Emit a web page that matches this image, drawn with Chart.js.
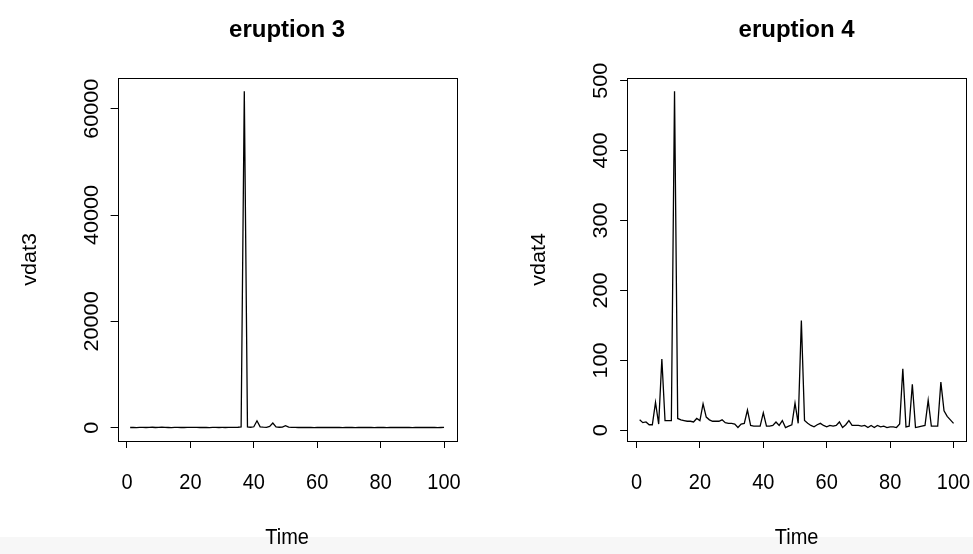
<!DOCTYPE html>
<html><head><meta charset="utf-8">
<script src="https://cdn.jsdelivr.net/npm/chart.js@4"></script>
<style>
html,body{margin:0;padding:0;background:#fff;}
#wrap{position:relative;width:973px;height:554px;overflow:hidden;background:#fff;}
canvas{position:absolute;top:0;}
#band{position:absolute;left:0;top:537px;width:973px;height:17px;background:#f7f7f7;}
</style></head><body>
<div id="wrap"><div id="band"></div>
<canvas id="c3" width="486" height="554" style="left:0;width:486px;height:554px"></canvas>
<canvas id="c4" width="487" height="554" style="left:486px;width:487px;height:554px"></canvas>
</div>
<script>
// ---- data ----
const time = Array.from({length: 100}, (_, i) => i + 1);
const vdat3 = [
  45, 60, 38, 52, 70, 41, 55, 90, 48, 62,
  120, 58, 44, 36, 50, 65, 47, 39, 80, 53,
  61, 49, 42, 57, 46, 38, 52, 66, 44, 50,
  43, 58, 71, 49, 88, 150, 63300, 140, 95, 180,
  1300, 160, 110, 85, 240, 880, 150, 90, 120, 400,
  110, 70, 55, 48, 62, 40, 51, 45, 37, 58,
  44, 50, 39, 47, 60, 42, 55, 38, 46, 41,
  53, 36, 48, 44, 57, 40, 49, 35, 52, 43,
  47, 38, 61, 45, 50, 39, 55, 42, 48, 37,
  46, 52, 40, 44, 58, 41, 49, 36, 45, 50
];
const vdat4 = [
  15, 11, 12, 8, 8, 40, 9, 102, 14, 14,
  14, 485, 17, 15, 14, 13, 13, 12, 17, 14,
  38, 19, 15, 13, 13, 13, 15, 11, 10, 10,
  9, 4, 9, 10, 29, 7, 6, 6, 6, 25,
  6, 6, 7, 12, 7, 14, 4, 6, 8, 39,
  10, 157, 14, 10, 7, 5, 8, 10, 7, 5,
  7, 6, 7, 12, 4, 8, 14, 7, 7, 7,
  6, 7, 4, 7, 4, 7, 5, 6, 4, 5,
  5, 4, 9, 88, 5, 6, 66, 4, 5, 6,
  7, 43, 6, 6, 6, 69, 28, 20, 15, 10
];
const xTicks = [0, 20, 40, 60, 80, 100];
const yTicks3 = [0, 20000, 40000, 60000];
const yTicks4 = [0, 100, 200, 300, 400, 500];
const panelTitles = ['eruption 3', 'eruption 4'];
const yTitles = ['vdat3', 'vdat4'];
const xTitle = 'Time';

const FONT = '"Liberation Sans", Arial, Helvetica, sans-serif';
const STRETCH = 1.08; // text is slightly taller than wide in the reference

// R-style plotting frame, tick labels and axis titles
const rPlot = {
  id: 'rPlot',
  afterDraw(chart, args, o) {
    const ctx = chart.ctx, a = chart.chartArea;
    const xs = chart.scales.x, ys = chart.scales.y;
    ctx.save();
    ctx.strokeStyle = '#000';
    ctx.lineWidth = 1;
    ctx.strokeRect(Math.round(a.left) + 0.5, Math.round(a.top) + 0.5,
                   Math.round(a.right - a.left), Math.round(a.bottom - a.top));
    ctx.fillStyle = '#000';
    ctx.font = '20px ' + FONT;
    ctx.textAlign = 'center';
    ctx.textBaseline = 'middle';
    const hText = (s, x, y) => {
      ctx.save(); ctx.translate(x, y); ctx.scale(1, STRETCH); ctx.fillText(s, 0, 0); ctx.restore();
    };
    const vText = (s, x, y) => {
      ctx.save(); ctx.translate(x, y); ctx.rotate(-Math.PI / 2); ctx.scale(STRETCH, 1); ctx.fillText(s, 0, 0); ctx.restore();
    };
    o.xTicks.forEach(v => hText(String(v), xs.getPixelForValue(v), a.bottom + 42));
    hText(o.xTitle, (a.left + a.right) / 2, a.bottom + 97);
    o.yTicks.forEach(v => vText(String(v), a.left - 25.6, ys.getPixelForValue(v)));
    vText(o.yTitle, a.left - 87.6, (a.top + a.bottom) / 2);
    ctx.restore();
  }
};

function makePanel(id, values, yTicks, title, yTitle, areaLeft, padRight) {
  const lo = Math.min(...values), hi = Math.max(...values);
  const xlo = time[0], xhi = time[time.length - 1];
  const xpad = 0.04 * (xhi - xlo), ypad = 0.04 * (hi - lo);
  new Chart(document.getElementById(id), {
    type: 'line',
    data: {
      datasets: [{
        data: time.map((t, i) => ({x: t, y: values[i]})),
        borderColor: '#000',
        borderWidth: 1.3,
        pointRadius: 0,
        tension: 0,
        fill: false
      }]
    },
    options: {
      responsive: false,
      animation: false,
      devicePixelRatio: 1,
      layout: {padding: {left: 0, right: padRight, top: 0, bottom: 0}},
      plugins: {
        legend: {display: false},
        tooltip: {enabled: false},
        title: {
          display: true, text: title, color: '#000', fullSize: false,
          font: {family: FONT, size: 24, weight: 'bold', lineHeight: 1.2},
          padding: {top: 15.6, bottom: 33.3}
        },
        rPlot: {xTicks: xTicks, yTicks: yTicks, xTitle: xTitle, yTitle: yTitle}
      },
      scales: {
        x: {
          type: 'linear', min: xlo - xpad, max: xhi + xpad,
          afterBuildTicks: s => { s.ticks = xTicks.map(v => ({value: v})); },
          afterFit: s => { s.height = 113; },
          ticks: {display: false},
          border: {display: false},
          grid: {drawOnChartArea: false, drawTicks: true, tickLength: 7, tickColor: '#000', lineWidth: 1}
        },
        y: {
          type: 'linear', min: lo - ypad, max: hi + ypad,
          afterBuildTicks: s => { s.ticks = yTicks.map(v => ({value: v})); },
          afterFit: s => { s.width = areaLeft; },
          ticks: {display: false},
          border: {display: false},
          grid: {drawOnChartArea: false, drawTicks: true, tickLength: 7, tickColor: '#000', lineWidth: 1}
        }
      }
    },
    plugins: [rPlot]
  });
}

makePanel('c3', vdat3, yTicks3, panelTitles[0], yTitles[0], 117.6, 486 - 456.6);
makePanel('c4', vdat4, yTicks4, panelTitles[1], yTitles[1], 141.1, 487 - 480.1);
</script>
</body></html>
